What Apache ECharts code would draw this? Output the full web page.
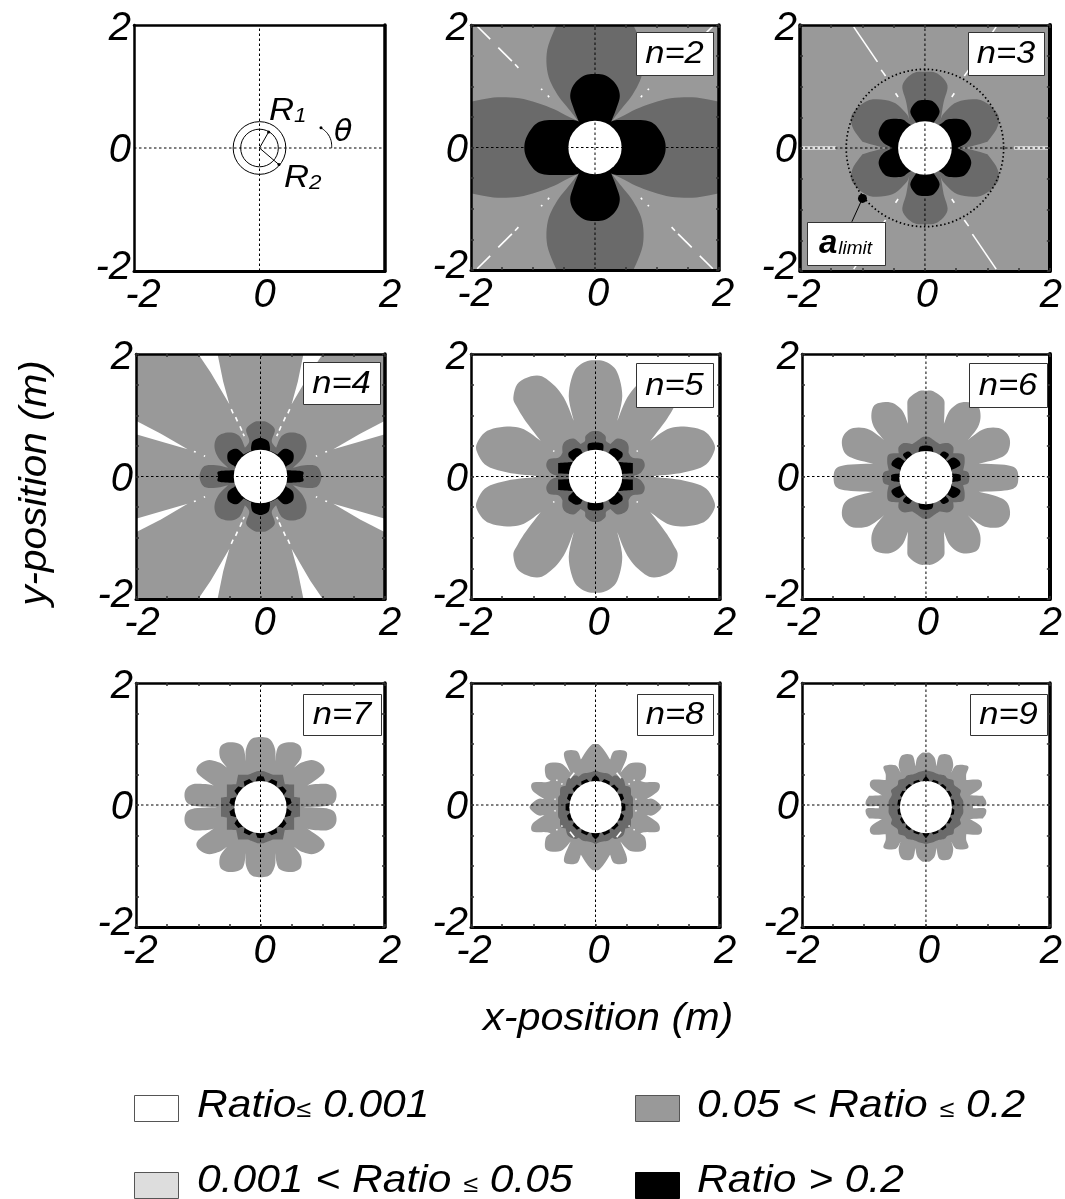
<!DOCTYPE html>
<html><head><meta charset="utf-8">
<style>html,body{margin:0;padding:0;background:#fff}#c{width:1065px;height:1199px}</style>
<script src="https://cdn.jsdelivr.net/npm/echarts@6/dist/echarts.min.js"></script>
</head><body><div id="c"></div>
<script>
// ---- values (metres, first quadrant, mirrored into the other three) ----
// a third element of 1 marks a sharp notch or corner in the outline
const c = 1;
const tickValues = [-2, 0, 2];
const panelNames = ['', 'n=2', 'n=3', 'n=4', 'n=5', 'n=6', 'n=7', 'n=8', 'n=9'];
const holeRadius = [0, .43, .43, .43, .43, .43, .42, .42, .42];
const centreDrop = [0, 0, 0, 0, 0, .02, .035, .035, .035];
const legendLabels = ['Ratio≤ 0.001', '0.05 < Ratio ≤ 0.2', '0.001 < Ratio ≤ 0.05', 'Ratio > 0.2'];
const R1 = .30, R2 = .42, aLimit = 1.26;

const n2Dark = [[2,0,c],[2,.73,c],[1.95,.76],[1.57,.82],[1.15,.79],[.72,.65],[.4,.49],[.27,.43,c],[.4,.6],[.61,.87],[.76,1.2],[.77,1.6],[.62,2,c],[0,2,c]];
const n2Black = [[1.14,0],[1.1,.18],[.97,.37],[.82,.44],[.55,.45],[.33,.445],[.26,.42,c],[.34,.625],[.4,.84],[.34,1.03],[.18,1.17],[0,1.2]];
const n2Streaks = [[1.9,1.98,1.69,1.77],[1.56,1.63,1.34,1.41],[1.29,1.36,1.235,1.3],[.87,.96,.85,.94],[.76,.85,.74,.82]];

const n3Dark = [[.57,0,c],[.75,.03],[1,.1,c],[1.16,.34],[1.16,.56],[.89,.78],[.52,.75],[.3,.56],[.25,.45,c],[.3,.75],[.36,1.02],[.2,1.21],[0,1.24]];
const n3Black = [[.52,0,c],[.68,.1],[.74,.26],[.625,.45],[.385,.47],[.28,.41,c],[.2,.36,c],[.14,.41,c],[.235,.59],[.14,.75],[0,.78]];
const n3Streaks = [[1.97,0,1.43,0],[1.14,1.97,.76,1.4],[.7,1.27,.63,1.17],[.47,.89,.43,.83]];

const n4Dark = [[.98,0],[.9,.17],[.68,.18],[.52,.14,c],[.68,.31],[.74,.5],[.68,.66],[.5,.72],[.34,.66],[.25,.47,c],[.18,.58],[.23,.77],[.1,.89],[0,.9]];
const n4Black = [[.68,0],[.68,.08],[.5,.1],[.38,.1,c],[.42,.17,c],[.52,.25],[.52,.39],[.39,.455],[.27,.36,c],[.15,.42,c],[.15,.49],[.12,.58],[0,.63]];
const n4Wedges = [[[1.17,.445],[1.6,.7],[2,.91],[2,.69],[1.6,.57]],[[.5,1.18],[.6,1.55],[.69,2],[1,2],[.8,1.7]]];
const n4Streaks = [[1.07,.41,1.04,.4],[.91,.34,.89,.33],[.47,1.1,.44,1.03],[.4,.97,.37,.9],[.33,.82,.3,.75],[.28,.7,.26,.66]];

const n5Light = [[.94,.01,c],[1.36,.055],[1.74,.17],[1.9,.39],[1.9,.55],[1.74,.745],[1.42,.815],[1.15,.77],[.88,.58,c],[1.12,.9],[1.26,1.13],[1.32,1.29],[1.23,1.54],[.94,1.65],[.72,1.54],[.51,1.29],[.35,.91,c],[.43,1.315],[.35,1.7],[.19,1.86],[0,1.9]];
const n5Dark = [[.61,.01,c],[.72,.055],[.79,.17],[.75,.28],[.59,.31],[.53,.39,c],[.53,.5],[.48,.58],[.35,.62],[.24,.53,c],[.17,.58],[.16,.66],[.08,.73],[0,.745]];
const n5Black = [[.4,.04,c],[.6,.05,c],[.6,.22,c],[.45,.23,c],[.35,.24,c],[.43,.32,c],[.43,.39],[.32,.46],[.24,.445,c],[.2,.37,c],[.12,.4,c],[.12,.53],[0,.555]];
const n5Streaks = [[.68,.42,.66,.41]];

const n6Light = [[1.49,0],[1.45,.15],[1.27,.21],[.85,.23,c],[1.16,.31],[1.32,.42],[1.35,.64],[1.21,.8],[.95,.8],[.73,.66],[.65,.58,c],[.84,.83],[.88,1.04],[.81,1.2],[.57,1.23],[.385,1.1],[.29,.88,c],[.3,1.15],[.28,1.29],[.12,1.41],[0,1.42]];
const n6Dark = [[.7,0],[.68,.09],[.6,.12,c],[.625,.255],[.6,.38],[.44,.4,c],[.44,.5],[.36,.565],[.22,.55,c],[.13,.61],[.06,.66],[0,.67]];
const n6Black = [[.56,0],[.55,.05],[.42,.07,c],[.42,.13,c],[.55,.2],[.53,.28],[.44,.33],[.34,.27,c],[.32,.3,c],[.37,.38],[.28,.43],[.22,.37,c],[.12,.4,c],[.1,.5],[0,.525]];

const n7Light = [[.69,0,c],[1.06,.02],[1.2,.1],[1.21,.27],[1.09,.375],[.85,.375],[.75,.35,c],[1,.54],[1.01,.67],[.85,.77],[.66,.73],[.54,.65,c],[.65,.81],[.64,1],[.48,1.065],[.29,1],[.235,.755,c],[.235,.945],[.155,1.11],[0,1.15]];
const n7Dark = [[.635,0,c],[.635,.155,c],[.54,.17,c],[.54,.37,c],[.39,.375,c],[.36,.53,c],[.2,.53,c],[.13,.56,c],[.05,.59,c],[0,.595,c]];
const n7Black = [[.4,0,c],[.5,.07,c],[.48,.14,c],[.36,.173,c],[.42,.27,c],[.36,.34,c],[.25,.31,c],[.27,.42,c],[.18,.46,c],[.09,.39,c],[.05,.5,c],[0,.51,c]];

const n8Light = [[1.06,0],[.93,.13],[.82,.13,c],[1.01,.27],[1.01,.4],[.8,.41],[.72,.43,c],[.8,.51],[.79,.7],[.56,.72],[.4,.565,c],[.5,.81],[.48,.92],[.3,.92],[.235,.78,c],[.13,.945],[.05,1.03],[0,1.03]];
const n8Dark = [[.6,0],[.6,.15],[.57,.2,c],[.56,.32],[.48,.35,c],[.44,.47],[.33,.52],[.27,.5,c],[.2,.55],[.08,.57],[0,.6]];
const n8Black = [[.48,0,c],[.48,.05,c],[.39,.08,c],[.46,.14,c],[.43,.22,c],[.33,.22,c],[.37,.3,c],[.3,.37,c],[.22,.33,c],[.23,.42,c],[.14,.46,c],[.08,.39,c],[.05,.48,c],[0,.53,c]];
const n8Streaks = [[.63,.41,.61,.4],[.55,.35,.53,.34],[.66,.1,.64,.09],[.41,.44,.34,.53]];

const n9Light = [[.76,.02,c],[.95,.02],[.97,.1],[.92,.185,c],[.71,.195,c],[.89,.32],[.87,.445],[.65,.445,c],[.65,.54],[.68,.67],[.49,.685],[.41,.565,c],[.44,.7],[.385,.85],[.22,.85],[.17,.67,c],[.14,.81],[.06,.89],[0,.89]];
const n9Dark = [[.6,0],[.6,.1],[.55,.2],[.56,.28],[.46,.36],[.44,.44],[.35,.47],[.3,.52],[.2,.54],[.1,.58],[0,.6]];
const n9Black = [[.4,0,c],[.46,.042,c],[.45,.12,c],[.376,.137,c],[.42,.2,c],[.38,.27,c],[.306,.257,c],[.33,.33,c],[.27,.38,c],[.2,.346,c],[.2,.42,c],[.12,.45,c],[.07,.394,c],[.042,.46,c],[0,.51,c]];

// ---- layout and styles ----
const FONT = '"Liberation Sans", Arial, sans-serif';
const LIGHT = '#999999', DARK = '#6a6a6a', BLACK = '#000000', WHITE = '#ffffff';
const lefts = [134,471,800,136,471,802,136,471,802], rights = [385,719,1051,385,720,1051,385,720,1052];
const tops = [25,25,25,354,354,354,683,683,683], bottoms = [271,270,271,599,599,599,927,927,927];
const rightWidth = [3.5,3.5,4,3.5,3.5,4,3.5,3.5,3.5], leftWidth = [2.5,2.5,3.5,2.5,2.5,2.5,2.5,2.5,2.5];
const boxes = [null,[636,32,77,43],[968,32,76,43],[303,362,77,42],[636,363,77,44],[969,363,78,44],[303,694,78,41],[637,694,76,41],[970,694,77,41]];
const xShift = [[9,5,5],[4,3,4],[3,2,1],[6,4,5],[4,3,5],[1,2,1],[4,4,5],[3,3,5],[0,3,1]];
const panelBg = [WHITE,LIGHT,LIGHT,LIGHT,WHITE,WHITE,WHITE,WHITE,WHITE];
const panelLayers = [
  [],
  [[n2Dark,DARK],[n2Black,BLACK]],
  [[n3Dark,DARK],[n3Black,BLACK]],
  [[n4Dark,DARK],[n4Black,BLACK]],
  [[n5Light,LIGHT],[n5Dark,DARK],[n5Black,BLACK]],
  [[n6Light,LIGHT],[n6Dark,DARK],[n6Black,BLACK]],
  [[n7Light,LIGHT],[n7Dark,DARK],[n7Black,BLACK]],
  [[n8Light,LIGHT],[n8Dark,DARK],[n8Black,BLACK]],
  [[n9Light,LIGHT],[n9Dark,DARK],[n9Black,BLACK]]
];
const panelStreaks = [[],n2Streaks,n3Streaks,n4Streaks,n5Streaks,[],[],n8Streaks,[]];
const panelWedges = [[],[],[],n4Wedges,[],[],[],[],[]];

function fullOutline(q){
  const rev = q.slice().reverse();
  const all = q.map(p=>[p[0],p[1],p[2]])
    .concat(rev.map(p=>[-p[0],p[1],p[2]]))
    .concat(q.map(p=>[-p[0],-p[1],p[2]]))
    .concat(rev.map(p=>[p[0],-p[1],p[2]]));
  return all.filter((p,i)=>{
    const o = all[(i+1)%all.length];
    return !(Math.abs(p[0]-o[0])<1e-9 && Math.abs(p[1]-o[1])<1e-9);
  });
}
// Draws a curve through the read points, keeping the points marked as corners sharp
function curve(pts, flags){
  const n=pts.length, out=[];
  for(let i=0;i<n;i++){
    const a=pts[i], b=pts[(i+1)%n];
    const before=flags[i]?a:pts[(i-1+n)%n], after=flags[(i+1)%n]?b:pts[(i+2)%n];
    for(let k=0;k<6;k++){
      const t=k/6,t2=t*t,t3=t2*t;
      out.push([0,1].map(d=>.5*(2*a[d]+(b[d]-before[d])*t+(2*before[d]-5*a[d]+4*b[d]-after[d])*t2+(3*a[d]-before[d]-3*b[d]+after[d])*t3)));
    }
  }
  return out;
}
const signs = [[1,1],[-1,1],[-1,-1],[1,-1]];

const grids=[], xAxes=[], yAxes=[], series=[];
panelNames.forEach((nm,i)=>{
  grids.push({show:true,left:lefts[i],top:tops[i],width:rights[i]-lefts[i],height:bottoms[i]-tops[i],
    backgroundColor:panelBg[i],borderWidth:0});
  const ticks = i===0 ? {show:false} : {show:true,inside:true,length:3,lineStyle:{color:'#333',width:1.5}};
  const base = {type:'value',min:-2,max:2,interval:.5,gridIndex:i,splitLine:{show:false},z:10,axisTick:ticks};
  const txt = {fontFamily:FONT,fontStyle:'italic',fontSize:40,color:'#000',lineHeight:40};
  const s = xShift[i];
  const pad = d=>d>=0?[0,0,0,2*d]:[0,-2*d,0,0];
  xAxes.push(Object.assign({},base,{position:'bottom',
    axisLine:{show:true,onZero:false,lineStyle:{color:'#000',width:3}},
    axisLabel:{show:true,margin:5,interval:0,showMinLabel:true,showMaxLabel:true,hideOverlap:false,
      formatter:v=>v===tickValues[0]?'{a|-2}':v===tickValues[1]?'{b|0}':v===tickValues[2]?'{c|2}':'',
      rich:{a:Object.assign({},txt,{padding:pad(s[0])}),b:Object.assign({},txt,{padding:pad(s[1])}),c:Object.assign({},txt,{padding:pad(s[2])})}}}));
  yAxes.push(Object.assign({},base,{position:'left',
    axisLine:{show:true,onZero:false,lineStyle:{color:'#000',width:leftWidth[i]}},
    axisLabel:{show:true,margin:3,interval:0,showMinLabel:true,showMaxLabel:true,hideOverlap:false,
      formatter:v=>v===tickValues[0]?'{a|-2}':v===tickValues[1]?'{b|0}':v===tickValues[2]?'{c|2}':'',
      rich:{a:Object.assign({},txt,{padding:[0,0,6,0]}),b:Object.assign({},txt,{padding:[6,0,0,0]}),c:Object.assign({},txt,{padding:[8,0,0,0]})}}}));
  xAxes.push(Object.assign({},base,{position:'top',axisLine:{show:true,onZero:false,lineStyle:{color:'#000',width:2.5}},axisLabel:{show:false}}));
  yAxes.push(Object.assign({},base,{position:'right',axisLine:{show:true,onZero:false,lineStyle:{color:'#000',width:rightWidth[i]}},axisLabel:{show:false}}));
  const xi=2*i, yi=2*i, drop=centreDrop[i];
  const common = {type:'custom',xAxisIndex:xi,yAxisIndex:yi,silent:true,animation:false,clip:true,coordinateSystem:'cartesian2d',encode:{x:0,y:1}};

  if(panelWedges[i].length){
    const pts = panelWedges[i].flat();
    series.push(Object.assign({},common,{name:'wedges '+nm,z:2,data:pts,renderItem:(p,api)=>{
      if(p.dataIndex!==0) return null;
      const children=[];
      panelWedges[i].forEach(w=>signs.forEach(sg=>children.push({type:'polygon',
        shape:{points:w.map(q=>api.coord([q[0]*sg[0],q[1]*sg[1]]))},style:{fill:WHITE}})));
      return {type:'group',children};
    }}));
  }
  panelLayers[i].forEach((ly,k)=>{
    const outline = fullOutline(ly[0]);
    series.push(Object.assign({},common,{name:nm+' level '+k,z:3+k,data:outline.map(q=>[q[0],q[1]]),renderItem:(p,api)=>{
      if(p.dataIndex!==0) return null;
      const screen = outline.map(q=>api.coord([q[0],q[1]-drop]));
      return {type:'polygon',shape:{points:curve(screen,outline.map(q=>q[2]))},style:{fill:ly[1]}};
    }}));
  });
  if(panelStreaks[i].length){
    series.push(Object.assign({},common,{name:'gaps '+nm,z:7,data:panelStreaks[i].map(a=>[a[0],a[1]]),renderItem:(p,api)=>{
      if(p.dataIndex!==0) return null;
      const children=[];
      panelStreaks[i].forEach(a=>signs.forEach(sg=>children.push({type:'polyline',
        shape:{points:[api.coord([a[0]*sg[0],a[1]*sg[1]]),api.coord([a[2]*sg[0],a[3]*sg[1]])]},
        style:{stroke:i===2&&a[1]===0?'#e4e4e4':WHITE,lineWidth:i===2&&a[1]===0?3:1.6,fill:null}})));
      return {type:'group',children};
    }}));
  }
  if(holeRadius[i]>0){
    series.push(Object.assign({},common,{name:'hole '+nm,z:8,data:[[0,0]],renderItem:(p,api)=>{
      const o=api.coord([0,-drop]);
      return {type:'circle',shape:{cx:o[0],cy:o[1],r:api.size([holeRadius[i],0])[0]},style:{fill:WHITE}};
    }}));
  }
  const cross={type:'line',xAxisIndex:xi,yAxisIndex:yi,silent:true,symbol:'none',animation:false,z:9,
    lineStyle:{color:'#000',width:1,type:[2.5,2.5]}};
  series.push(Object.assign({},cross,{data:[[-2,0],[2,0]]}));
  series.push(Object.assign({},cross,{data:[[0,-2],[0,2]]}));
});

// first panel: R1, R2 and theta sketch
const r1End=[.145,.26], r2End=[.31,-.27], thetaArc=[[1.15,0],[1.14,.12],[1.08,.24],[.98,.33]];
series.push({type:'custom',xAxisIndex:0,yAxisIndex:0,silent:true,animation:false,z:9,coordinateSystem:'cartesian2d',data:[[0,0]],
  renderItem:(p,api)=>{
    const o=api.coord([0,0]);
    const ln=(a,b)=>({type:'polyline',shape:{points:[a,b]},style:{stroke:'#000',lineWidth:1,fill:null}});
    const dot=a=>({type:'circle',shape:{cx:a[0],cy:a[1],r:1.5},style:{fill:'#000'}});
    const a=api.coord(r1End), b=api.coord(r2End), arc=thetaArc.map(q=>api.coord(q));
    return {type:'group',children:[
      {type:'circle',shape:{cx:o[0],cy:o[1],r:api.size([R1,0])[0]},style:{fill:null,stroke:'#000',lineWidth:1}},
      {type:'circle',shape:{cx:o[0],cy:o[1],r:api.size([R2,0])[0]},style:{fill:null,stroke:'#000',lineWidth:1}},
      ln(o,a),ln(o,b),dot(a),dot(b),
      {type:'polyline',shape:{points:arc,smooth:.4},style:{stroke:'#000',lineWidth:1,fill:null}},dot(arc[3])
    ]};
  }});
// third panel: a_limit circle and marker
const aLimitMarker=[-1.0,-.82], aLimitLeader=[-1.17,-1.2];
series.push({type:'custom',xAxisIndex:4,yAxisIndex:4,silent:true,animation:false,z:9,coordinateSystem:'cartesian2d',data:[[0,0]],
  renderItem:(p,api)=>{
    const o=api.coord([0,0]), m=api.coord(aLimitMarker), l=api.coord(aLimitLeader);
    return {type:'group',children:[
      {type:'circle',shape:{cx:o[0],cy:o[1],r:api.size([aLimit,0])[0]},style:{fill:null,stroke:'#000',lineWidth:1.7,lineDash:[1.5,2.6]}},
      {type:'polyline',shape:{points:[m,l]},style:{stroke:'#000',lineWidth:1,fill:null}},
      {type:'circle',shape:{cx:m[0],cy:m[1],r:4.5},style:{fill:'#000'}}
    ]};
  }});

// texts and boxes
const g=[];
panelNames.forEach((nm,i)=>{
  if(!boxes[i]) return;
  const b=boxes[i];
  g.push({type:'rect',z:30,shape:{x:b[0]+.5,y:b[1]+.5,width:b[2],height:b[3]},style:{fill:'#fff',stroke:'#333',lineWidth:1}});
  g.push({type:'text',z:31,x:b[0]+b[2]/2,y:b[1]+b[3]/2+1,scaleX:1.08,style:{text:nm,fill:'#000',font:'italic 32px '+FONT,textAlign:'center',textVerticalAlign:'middle'}});
});
g.push({type:'rect',z:30,shape:{x:807.5,y:222.5,width:78,height:43},style:{fill:'#fff',stroke:'#333',lineWidth:1}});
g.push({type:'text',z:31,x:819,y:244,style:{rich:{a:{font:'italic bold 33px '+FONT,fill:'#000'},b:{font:'italic 19px '+FONT,fill:'#000',padding:[10,0,0,1]}},text:'{a|a}{b|limit}',textVerticalAlign:'middle'}});
const subs=(t,s,x,y)=>g.push({type:'text',z:31,x,y,scaleX:1.12,style:{rich:{a:{font:'italic 31px '+FONT,fill:'#000'},b:{font:'italic 20px '+FONT,fill:'#000',padding:[10,0,0,0]}},text:'{a|'+t+'}{b|'+s+'}',textVerticalAlign:'middle'}});
subs('R','1',269,111); subs('R','2',284,178);
g.push({type:'text',z:31,x:334,y:133,style:{text:'θ',fill:'#000',font:'italic 30px "DejaVu Sans", '+FONT,textVerticalAlign:'middle'}});
g.push({type:'text',z:31,x:483,y:1019,scaleX:1.06,style:{text:'x-position (m)',fill:'#000',font:'italic 39px '+FONT,textVerticalAlign:'middle'}});
g.push({type:'text',z:31,x:35,y:483,rotation:Math.PI/2,scaleX:1.04,style:{text:'y-position (m)',fill:'#000',font:'italic 39px '+FONT,textAlign:'center',textVerticalAlign:'middle'}});
const sw=[[134,1095,WHITE],[635,1095,LIGHT],[134,1172,'#dddddd'],[635,1172,BLACK]];
const lx=[197,697,197,697], ly=[1106,1106,1181,1181];
legendLabels.forEach((t,i)=>{
  g.push({type:'rect',z:30,shape:{x:sw[i][0]+.5,y:sw[i][1]+.5,width:44,height:26},style:{fill:sw[i][2],stroke:i===3?'#000':'#555',lineWidth:1}});
  const parts=t.split('≤');
  const text=parts.length>1?'{a|'+parts[0]+'}{b|≤}{a|'+parts[1]+'}':'{a|'+t+'}';
  g.push({type:'text',z:31,x:lx[i],y:ly[i],scaleX:1.12,style:{rich:{a:{font:'italic 38px '+FONT,fill:'#000'},b:{font:'italic 24px '+FONT,fill:'#000',padding:[8,0,0,0]}},text,textVerticalAlign:'middle'}});
});

const chart=echarts.init(document.getElementById('c'),null,{renderer:'canvas'});
chart.setOption({animation:false,backgroundColor:'#fff',grid:grids,xAxis:xAxes,yAxis:yAxes,series,graphic:{elements:g}});
</script></body></html>
